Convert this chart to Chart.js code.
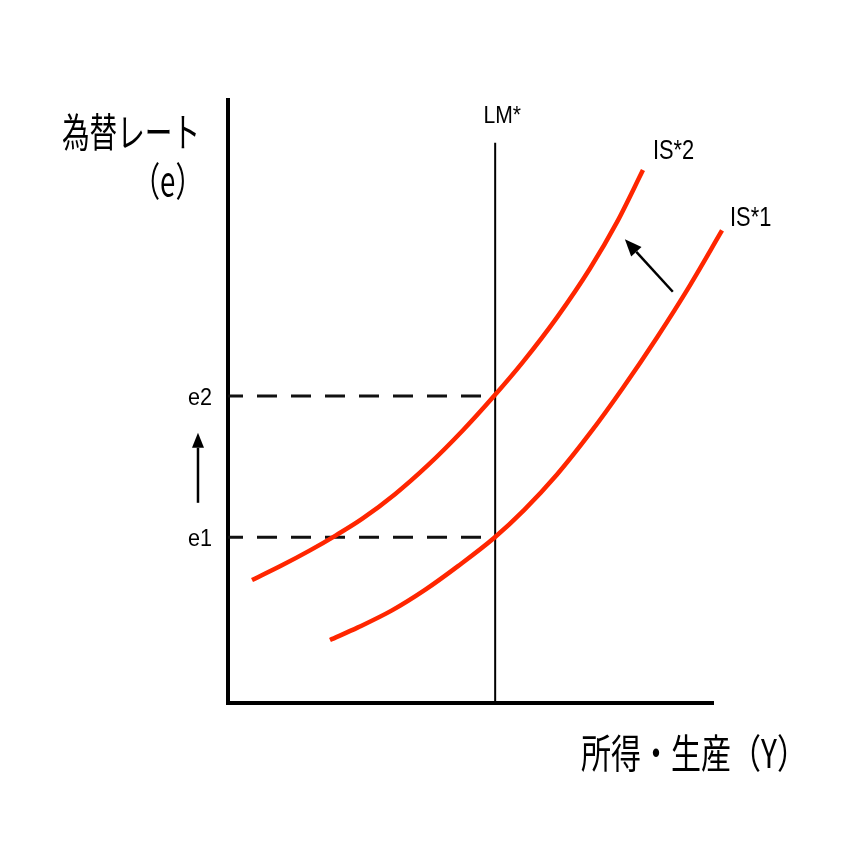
<!DOCTYPE html>
<html>
<head>
<meta charset="utf-8">
<script src="https://cdn.jsdelivr.net/npm/chart.js@4/dist/chart.umd.min.js"></script>
<style>
  html, body { margin: 0; padding: 0; background: #fff; }
  #wrap { width: 864px; height: 864px; }
</style>
</head>
<body>
<div id="wrap"><canvas id="c" width="864" height="864"></canvas></div>
<script>
// Mundell-Fleming diagram: IS* shifts left/up, exchange rate rises e1 -> e2

// IS*1 curve (income, exchange rate)
const is1X = [21.07, 26.86, 33.88, 40.70, 47.52, 54.96, 61.16, 67.98, 74.79, 81.61, 88.64, 95.45, 102.07];
const is1Y = [10.45, 12.54, 15.36, 18.76, 22.70, 27.36, 31.99, 37.89, 44.74, 52.29, 60.63, 69.27, 78.36];

// IS*2 curve
const is2X = [4.96, 10.74, 16.94, 22.31, 27.69, 34.50, 41.32, 48.35, 54.96, 60.95, 67.98, 74.79, 80.37, 85.74];
const is2Y = [20.40, 22.67, 25.31, 27.81, 30.53, 34.63, 39.44, 45.07, 50.91, 56.58, 63.96, 72.06, 79.75, 88.39];

// LM* vertical line
const lmX = 55.2;
const lmTop = 92.9;

// exchange rate levels
const eLabels = ['e1', 'e2'];
const eValues = [27.5, 50.9];

// axis extent
const axisMaxX = 100;
const axisMaxY = 100;

// arrows [fromX, fromY, toX, toY]
const arrowUp = [-6.2, 33.2, -6.2, 44.8];
const arrowShift = [91.9, 68.2, 82.0, 76.9];

const RED = 'rgb(255, 38, 0)';

function pts(xs, ys) {
  return xs.map((x, i) => ({ x: x, y: ys[i] }));
}

const datasets = [
  {
    label: 'IS*1', data: pts(is1X, is1Y), borderColor: RED, borderWidth: 4.5,
    cubicInterpolationMode: 'monotone'
  },
  {
    label: 'IS*2', data: pts(is2X, is2Y), borderColor: RED, borderWidth: 4.5,
    cubicInterpolationMode: 'monotone'
  },
  {
    label: 'LM*', data: [{ x: lmX, y: 0 }, { x: lmX, y: lmTop }],
    borderColor: '#000', borderWidth: 2
  }
];

// dashed guide lines from the y axis to LM*
eValues.forEach((v) => {
  datasets.push({
    label: 'dash', data: [{ x: 0, y: v }, { x: lmX, y: v }],
    borderColor: '#111', borderWidth: 3, borderDash: [20, 14], borderDashOffset: 5
  });
});

// the two axes
datasets.push({
  label: 'axisY', data: [{ x: 0, y: 0 }, { x: 0, y: axisMaxY }],
  borderColor: '#000', borderWidth: 4, borderCapStyle: 'square'
});
datasets.push({
  label: 'axisX', data: [{ x: 0, y: 0 }, { x: axisMaxX, y: 0 }],
  borderColor: '#000', borderWidth: 4, borderCapStyle: 'square'
});

datasets.forEach(ds => {
  ds.showLine = true;
  ds.pointRadius = 0;
  ds.clip = false;
  ds.fill = false;
});

// draws text with a horizontal squeeze like the original
function drawText(ctx, text, px, py, font, align, sx) {
  ctx.save();
  ctx.font = font;
  ctx.fillStyle = '#000';
  ctx.textBaseline = 'alphabetic';
  ctx.textAlign = align;
  ctx.translate(px, py);
  ctx.scale(sx, 1);
  ctx.fillText(text, 0, 0);
  ctx.restore();
}

function drawArrow(ctx, x1, y1, x2, y2, headLen, headW) {
  const ang = Math.atan2(y2 - y1, x2 - x1);
  const bx = x2 - headLen * Math.cos(ang);
  const by = y2 - headLen * Math.sin(ang);
  ctx.save();
  ctx.strokeStyle = '#000';
  ctx.fillStyle = '#000';
  ctx.lineWidth = 2.5;
  ctx.beginPath();
  ctx.moveTo(x1, y1);
  ctx.lineTo(bx, by);
  ctx.stroke();
  ctx.beginPath();
  ctx.moveTo(x2, y2);
  ctx.lineTo(bx + headW / 2 * Math.sin(ang), by - headW / 2 * Math.cos(ang));
  ctx.lineTo(bx - headW / 2 * Math.sin(ang), by + headW / 2 * Math.cos(ang));
  ctx.closePath();
  ctx.fill();
  ctx.restore();
}

const annotations = {
  id: 'annotations',
  afterDatasetsDraw(chart) {
    const ctx = chart.ctx;
    const xs = chart.scales.x;
    const ys = chart.scales.y;
    const LAT = '"Liberation Sans", Arial, sans-serif';
    const JP = '"Noto Sans CJK JP", sans-serif';

    // tick-like labels for e1, e2
    eLabels.forEach((t, i) => {
      drawText(ctx, t, xs.getPixelForValue(0) - 16, ys.getPixelForValue(eValues[i]) + 9,
        '24px ' + LAT, 'right', 0.9);
    });

    // curve names
    drawText(ctx, 'LM*', xs.getPixelForValue(lmX) + 7, ys.getPixelForValue(lmTop) - 20,
      '24px ' + LAT, 'center', 0.88);
    drawText(ctx, 'IS*2', xs.getPixelForValue(is2X[is2X.length - 1]) + 10, ys.getPixelForValue(is2Y[is2Y.length - 1]) - 11,
      '28px ' + LAT, 'left', 0.78);
    drawText(ctx, 'IS*1', xs.getPixelForValue(is1X[is1X.length - 1]) + 8, ys.getPixelForValue(is1Y[is1Y.length - 1]) - 4,
      '28px ' + LAT, 'left', 0.78);

    // axis titles
    drawText(ctx, '為替レート', 200, 147, '40px ' + JP, 'right', 0.69);
    drawText(ctx, '（e）', 203, 196, '40px ' + JP, 'right', 0.69);
    drawText(ctx, '所得・生産（Y）', 581, 768, '40px ' + JP, 'left', 0.75);

    // arrows
    drawArrow(ctx, xs.getPixelForValue(arrowUp[0]), ys.getPixelForValue(arrowUp[1]),
      xs.getPixelForValue(arrowUp[2]), ys.getPixelForValue(arrowUp[3]), 15, 12);
    drawArrow(ctx, xs.getPixelForValue(arrowShift[0]), ys.getPixelForValue(arrowShift[1]),
      xs.getPixelForValue(arrowShift[2]), ys.getPixelForValue(arrowShift[3]), 17, 14);
  }
};

new Chart(document.getElementById('c').getContext('2d'), {
  type: 'scatter',
  data: { datasets: datasets },
  options: {
    responsive: false,
    animation: false,
    layout: { padding: { left: 228, right: 103.6, top: 100, bottom: 161 } },
    plugins: { legend: { display: false }, tooltip: { enabled: false } },
    scales: {
      x: { type: 'linear', min: 0, max: 110, display: false },
      y: { type: 'linear', min: 0, max: 100, display: false }
    }
  },
  plugins: [annotations]
});
</script>
</body>
</html>
